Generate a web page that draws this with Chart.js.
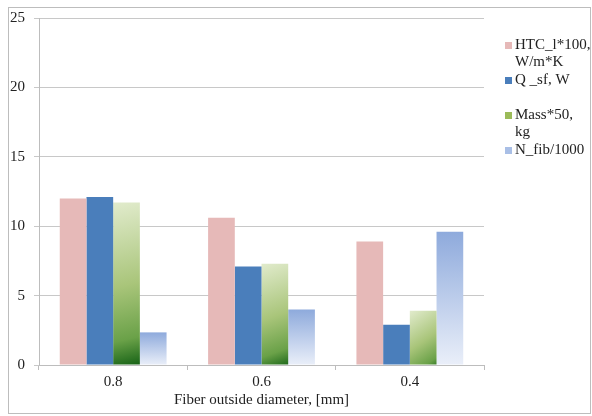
<!DOCTYPE html>
<html>
<head>
<meta charset="utf-8">
<script src="https://cdn.jsdelivr.net/npm/chart.js@4"></script>
<style>
    html, body { margin: 0; padding: 0; background: #fff; }
    #wrap { width: 592px; height: 416px; }
</style>
</head>
<body>
<div id="wrap"><canvas id="myChart" width="592" height="416"></canvas></div>
<script>
// data
const categories = ['0.8', '0.6', '0.4']
const htcValues = [12.0, 10.6, 8.9]
const qsfValues = [12.1, 7.1, 2.9]
const massValues = [11.7, 7.3, 3.9]
const nfibValues = [2.35, 4.0, 9.6]
const seriesLabels = ['HTC_l*100,\nW/m*K', 'Q _sf, W', 'Mass*50,\nkg', 'N_fib/1000']
const yTicks = [0, 5, 10, 15, 20, 25]

const CAT_PCT = 0.72
const FONT = '"Liberation Serif", "Times New Roman", serif'

// where a bar sits, from the scales
function barBox(context) {
    const chart = context.chart
    const x = chart.scales.x
    const y = chart.scales.y
    if (!x || !y || !chart.chartArea) return null
    const catW = x.width / categories.length
    const bw = catW * CAT_PCT / 4
    const center = x.getPixelForValue(context.dataIndex)
    const left = center - 2 * bw + context.datasetIndex * bw
    return {
        left: left,
        right: left + bw,
        top: y.getPixelForValue(context.raw),
        bottom: y.getPixelForValue(0)
    }
}

function greenFill(context) {
    const b = barBox(context)
    if (!b) return '#9bbb59'
    const g = context.chart.ctx.createLinearGradient(b.left, b.top, b.right + 10, b.bottom)
    g.addColorStop(0, '#e1ebcc')
    g.addColorStop(0.5, '#a9c57a')
    g.addColorStop(0.82, '#6aa148')
    g.addColorStop(1, '#0f5d12')
    return g
}

function lightBlueFill(context) {
    const b = barBox(context)
    if (!b) return '#b9cbec'
    const g = context.chart.ctx.createLinearGradient(0, b.top, 0, b.bottom)
    g.addColorStop(0, '#8eaadc')
    g.addColorStop(1, '#eaeff9')
    return g
}

const legendColors = ['#e6b9b8', '#4a7ebb', '#9bbb59', '#a9bfe6']

const framePlugin = {
    id: 'frame',
    beforeDraw(chart) {
        const ctx = chart.ctx
        ctx.save()
        ctx.fillStyle = '#fff'
        ctx.fillRect(0, 0, chart.width, chart.height)
        ctx.strokeStyle = '#bdbdbd'
        ctx.lineWidth = 1
        ctx.strokeRect(8.5, 7.5, 582, 406)
        ctx.restore()
    }
}

const sideLegend = {
    id: 'sideLegend',
    afterDraw(chart) {
        const ctx = chart.ctx
        ctx.save()
        ctx.font = '15px ' + FONT
        ctx.textBaseline = 'middle'
        let y = 45
        seriesLabels.forEach((lbl, i) => {
            ctx.fillStyle = legendColors[i]
            ctx.fillRect(505, y - 3, 7, 7)
            ctx.fillStyle = '#222'
            lbl.split('\n').forEach((line, j) => {
                ctx.fillText(line, 515, y + j * 17)
            })
            y += 35
        })
        ctx.restore()
    }
}

const ctx = document.getElementById('myChart')
const myChart = new Chart(ctx, {
    type: 'bar',
    data: {
        labels: categories,
        datasets: [
            { label: seriesLabels[0], data: htcValues, backgroundColor: '#e6b9b8' },
            { label: seriesLabels[1], data: qsfValues, backgroundColor: '#4a7ebb' },
            { label: seriesLabels[2], data: massValues, backgroundColor: greenFill },
            { label: seriesLabels[3], data: nfibValues, backgroundColor: lightBlueFill }
        ]
    },
    options: {
        responsive: false,
        animation: false,
        devicePixelRatio: 1,
        layout: { padding: { left: 0, right: 108, top: 15, bottom: 0 } },
        datasets: {
            bar: { categoryPercentage: CAT_PCT, barPercentage: 1.0, borderWidth: 0 }
        },
        plugins: {
            legend: { display: false },
            tooltip: { enabled: false }
        },
        scales: {
            x: {
                grid: {
                    display: true,
                    offset: true,
                    drawOnChartArea: false,
                    drawTicks: true,
                    tickLength: 5,
                    color: '#bdbdbd'
                },
                border: { color: '#bdbdbd' },
                ticks: { color: '#222', font: { family: FONT, size: 15 }, padding: 3 },
                title: {
                    display: true,
                    text: 'Fiber outside diameter, [mm]',
                    color: '#222',
                    font: { family: FONT, size: 15 },
                    padding: { top: 0, bottom: 7 }
                },
                afterFit(scale) { scale.height = 51 }
            },
            y: {
                min: 0,
                max: 25,
                afterBuildTicks(scale) {
                    scale.ticks = yTicks.map(v => ({ value: v }))
                },
                grid: { color: '#c8c8c8', tickLength: 5 },
                border: { color: '#bdbdbd' },
                ticks: { color: '#222', font: { family: FONT, size: 15 }, padding: 9 },
                afterFit(scale) { scale.width = 39 }
            }
        }
    },
    plugins: [framePlugin, sideLegend]
})
</script>
</body>
</html>
